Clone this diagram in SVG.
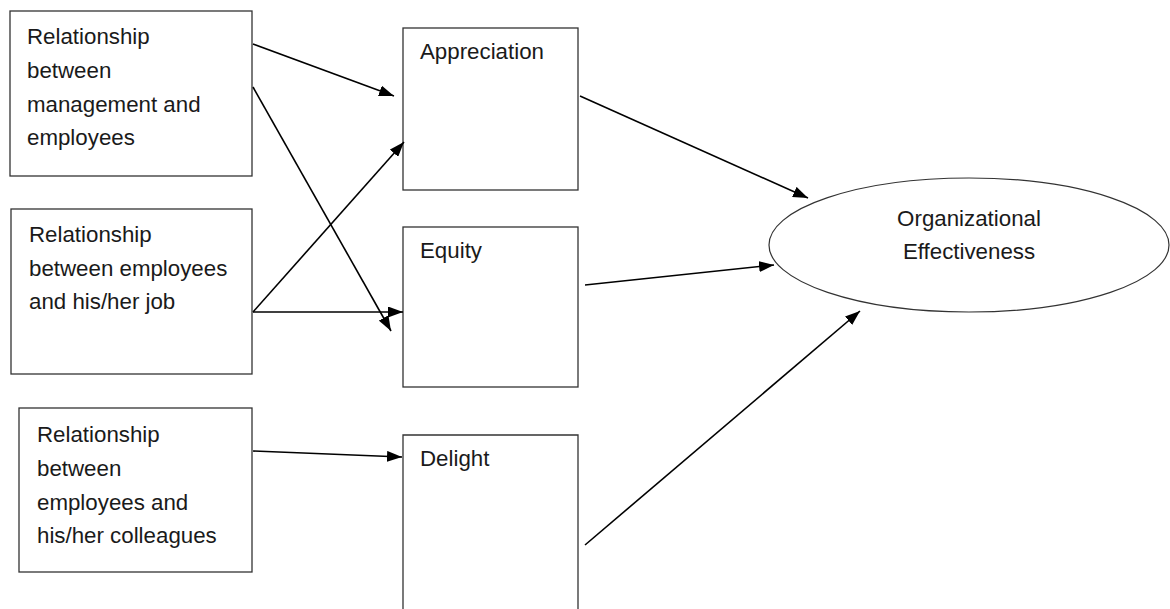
<svg xmlns="http://www.w3.org/2000/svg" width="1170" height="609" viewBox="0 0 1170 609">
<style>
.box{fill:#fff;stroke:#333;stroke-width:1.3}
.t{font-family:"Liberation Sans",Arial,sans-serif;font-size:22.3px;fill:#1a1a1a}
.c{stroke:#000;stroke-width:1.6;fill:none}
</style>
<defs>
<marker id="ah" viewBox="0 0 15 11" refX="15" refY="5.5" markerWidth="15" markerHeight="11" markerUnits="userSpaceOnUse" orient="auto">
<path d="M0,0 L15,5.5 L0,11 Z" fill="#000"/>
</marker>
</defs>
<rect width="1170" height="609" fill="#fff"/>
<g id="n1">
<rect class="box" x="10" y="11" width="242" height="165"/>
<text class="t" x="27" y="44">Relationship</text>
<text class="t" x="27" y="78">between</text>
<text class="t" x="27" y="112">management and</text>
<text class="t" x="27" y="145">employees</text>
</g>
<g id="n2">
<rect class="box" x="11" y="209" width="241" height="165"/>
<text class="t" x="29" y="242">Relationship</text>
<text class="t" x="29" y="276">between employees</text>
<text class="t" x="29" y="309">and his/her job</text>
</g>
<g id="n3">
<rect class="box" x="19" y="408" width="233" height="164"/>
<text class="t" x="37" y="442">Relationship</text>
<text class="t" x="37" y="476">between</text>
<text class="t" x="37" y="510">employees and</text>
<text class="t" x="37" y="543">his/her colleagues</text>
</g>
<g id="appreciation">
<rect class="box" x="403" y="28" width="175" height="162"/>
<text class="t" x="420" y="59">Appreciation</text>
</g>
<g id="equity">
<rect class="box" x="403" y="227" width="175" height="160"/>
<text class="t" x="420" y="258">Equity</text>
</g>
<g id="delight">
<path class="box" d="M403,612 V435 H578 V612"/>
<text class="t" x="420" y="466">Delight</text>
</g>
<g id="oe">
<ellipse cx="969" cy="245" rx="200" ry="67" fill="#fff" stroke="#333" stroke-width="1.2"/>
<text class="t" x="969" y="226" text-anchor="middle">Organizational</text>
<text class="t" x="969" y="259" text-anchor="middle">Effectiveness</text>
</g>
<g id="connectors">
<line class="c" x1="253" y1="44" x2="394" y2="96" marker-end="url(#ah)"/>
<line class="c" x1="253" y1="87" x2="391" y2="331" marker-end="url(#ah)"/>
<line class="c" x1="253" y1="312" x2="404" y2="142" marker-end="url(#ah)"/>
<line class="c" x1="253" y1="312" x2="403" y2="312" marker-end="url(#ah)"/>
<line class="c" x1="253" y1="451" x2="402" y2="457" marker-end="url(#ah)"/>
<line class="c" x1="580" y1="96" x2="808" y2="198" marker-end="url(#ah)"/>
<line class="c" x1="585" y1="285" x2="774" y2="265" marker-end="url(#ah)"/>
<line class="c" x1="585" y1="545" x2="860" y2="311" marker-end="url(#ah)"/>
</g>
</svg>
